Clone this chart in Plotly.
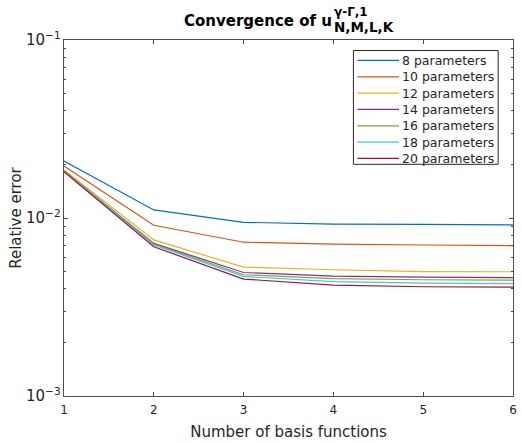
import plotly.graph_objects as go

# Number of basis functions (x axis)
basis = [1, 2, 3, 4, 5, 6]

# Relative error for each parameter count
err_8 = [0.0209, 0.0111, 0.00946, 0.00925, 0.00920, 0.00914]
err_10 = [0.0196, 0.0091, 0.00731, 0.00713, 0.00705, 0.00700]
err_12 = [0.0186, 0.00753, 0.00530, 0.00512, 0.00500, 0.00499]
err_14 = [0.0184, 0.00720, 0.00494, 0.00472, 0.00465, 0.00462]
err_16 = [0.0184, 0.00713, 0.00480, 0.00457, 0.00450, 0.00448]
err_18 = [0.0183, 0.00705, 0.00470, 0.00439, 0.00431, 0.00428]
err_20 = [0.0182, 0.00689, 0.00454, 0.00420, 0.00411, 0.00409]

names = ["8 parameters", "10 parameters", "12 parameters", "14 parameters",
         "16 parameters", "18 parameters", "20 parameters"]
series = [err_8, err_10, err_12, err_14, err_16, err_18, err_20]
colors = ["#0072BD", "#D95319", "#EDB120", "#7E2F8E", "#77AC30", "#4DBEEE", "#A2142F"]

W, H = 522, 443
ML, MR, MT, MB = 64, 5, 39.5, 47
PW, PH = W - ML - MR, H - MT - MB


def px(x):
    """Horizontal pixel position -> paper fraction."""
    return (x - ML) / PW


def py(y):
    """Vertical pixel position (from top) -> paper fraction."""
    return (H - MB - y) / PH


fig = go.Figure()
for name, ys, c in zip(names, series, colors):
    fig.add_trace(go.Scatter(x=basis, y=ys, mode="lines", name=name,
                             line=dict(color=c, width=1.2), showlegend=False))

axis_col = "#4d4d4d"
text_col = "#262626"

# Boxed key in the upper right corner
shapes = []
annotations = []
box_l, box_r, box_t, box_b = 356, 502, 50, 164
shapes.append(dict(type="rect", xref="paper", yref="paper",
                   x0=px(box_l), x1=px(box_r), y0=py(box_b), y1=py(box_t),
                   line=dict(color=text_col, width=1), fillcolor="white", layer="above"))
row_h = 16.35
for i, (name, c) in enumerate(zip(names, colors)):
    yc = box_t + 10 + i * row_h
    shapes.append(dict(type="line", xref="paper", yref="paper",
                       x0=px(360), x1=px(402), y0=py(yc), y1=py(yc),
                       line=dict(color=c, width=1.2), layer="above"))
    annotations.append(dict(text=name, xref="paper", yref="paper",
                            x=px(403), y=py(yc), xanchor="left", yanchor="middle",
                            showarrow=False, font=dict(size=12.5, color=text_col)))

# Title with stacked super/subscript
title_split = 335
annotations.append(dict(text="Convergence of u", xref="paper", yref="paper",
                        x=px(title_split + 1), y=py(20), xanchor="right", yanchor="middle",
                        showarrow=False,
                        font=dict(size=15, color="black", weight="bold")))
annotations.append(dict(text="γ-Γ,1", xref="paper", yref="paper",
                        x=px(title_split - 1), y=py(11), xanchor="left", yanchor="middle",
                        showarrow=False,
                        font=dict(size=12, color="black", weight="bold")))
annotations.append(dict(text="N,M,L,K", xref="paper", yref="paper",
                        x=px(title_split - 1), y=py(26), xanchor="left", yanchor="middle",
                        showarrow=False,
                        font=dict(size=13.5, color="black", weight="bold")))

fig.update_layout(
    width=W, height=H,
    margin=dict(l=ML, r=MR, t=MT, b=MB),
    paper_bgcolor="white", plot_bgcolor="white",
    font=dict(family="DejaVu Sans", color=text_col, size=12),
    showlegend=False,
    shapes=shapes,
    annotations=annotations,
    xaxis=dict(range=[1, 6], tickvals=basis, ticks="inside", ticklen=4,
               showline=True, mirror="ticks", linecolor=axis_col, linewidth=1,
               tickcolor=axis_col, showgrid=False, zeroline=False,
               ticklabelstandoff=3,
               title=dict(text="Number of basis functions", font=dict(size=15), standoff=10),
               tickfont=dict(size=12)),
    yaxis=dict(type="log", range=[-3, -1], dtick=1, exponentformat="power",
               ticks="inside", ticklen=4, showline=True, mirror="ticks",
               linecolor=axis_col, linewidth=1, tickcolor=axis_col,
               showgrid=False, zeroline=False,
               minor=dict(ticks="inside", ticklen=2, tickcolor=axis_col, showgrid=False),
               title=dict(text="Relative error", font=dict(size=15), standoff=0),
               tickfont=dict(size=12)),
)

fig.write_html("out.html")
